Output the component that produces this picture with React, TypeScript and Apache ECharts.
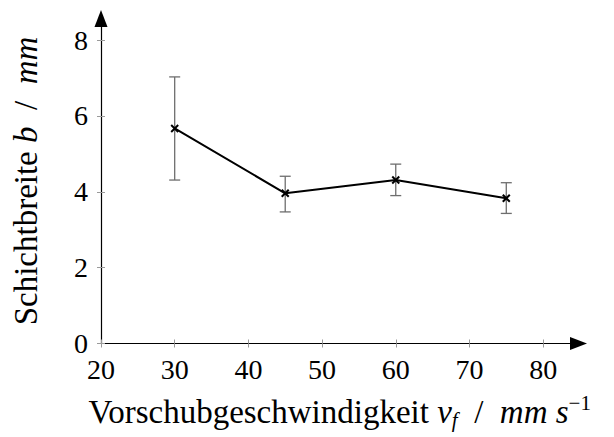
import React, { useEffect, useRef } from "react";
import * as echarts from "echarts";

const speeds = [30, 45, 60, 75];
const widths = [5.67, 3.96, 4.31, 3.83];
const errLow = [4.31, 3.47, 3.9, 3.43];
const errHigh = [7.03, 4.41, 4.73, 4.24];
const xTicks = [20, 30, 40, 50, 60, 70, 80];
const yTicks = [0, 2, 4, 6, 8];
const xTitle = ["Vorschubgeschwindigkeit ", "v", "f", "  /  ", "mm s", "−1"];
const yTitle = ["Schichtbreite ", "b", "  /  ", "mm"];

const FONT = "Liberation Serif";

export default function App() {
  const ref = useRef<HTMLDivElement>(null);
  useEffect(() => {
    const chart = echarts.init(ref.current!, null, { renderer: "svg" });
    const pts = speeds.map((s, i) => [s, widths[i], errLow[i], errHigh[i]]);
    const tickColor = "#9a9a9a";
    const baseX = { type: "value" as const, min: 20, max: 84.8, splitLine: { show: false } };
    const baseY = { type: "value" as const, min: 0, max: 8.57, splitLine: { show: false } };
    const rich = {
      t: { fontFamily: FONT, fontSize: 33, color: "#000", lineHeight: 38, verticalAlign: "middle" },
      i: { fontFamily: FONT, fontSize: 33, fontStyle: "italic", color: "#000", lineHeight: 38, verticalAlign: "middle" },
      sub: { fontFamily: FONT, fontSize: 21, fontStyle: "italic", color: "#000", lineHeight: 21, verticalAlign: "bottom" },
      sup: { fontFamily: FONT, fontSize: 21, color: "#000", lineHeight: 21, verticalAlign: "top" },
    };
    const xName = `{t|${xTitle[0]}}{i|${xTitle[1]}}{sub|${xTitle[2]}}{t|${xTitle[3]}}{i|${xTitle[4]}}{sup|${xTitle[5]}}`;
    const yName = `{t|${yTitle[0]}}{i|${yTitle[1]}}{t|${yTitle[2]}}{i|${yTitle[3]}}`;
    chart.setOption({
      animation: false,
      backgroundColor: "#fff",
      textStyle: { fontFamily: FONT },
      grid: { left: 101, right: 35.5, top: 18.5, bottom: 437 - 343.5 },
      xAxis: [
        {
          ...baseX,
          name: xName,
          nameLocation: "middle",
          nameGap: 49,
          nameTextStyle: { fontFamily: FONT, rich },
          axisLine: {
            show: true,
            lineStyle: { color: "#000", width: 1.2 },
            symbol: ["none", "triangle"],
            symbolSize: [13, 17],
          },
          axisTick: { show: true, inside: false, length: 4, lineStyle: { color: tickColor }, customValues: xTicks },
          axisLabel: {
            customValues: xTicks,
            fontFamily: FONT,
            fontSize: 28,
            color: "#000",
            margin: 12,
          },
        },
        {
          ...baseX,
          axisLine: { show: false },
          axisTick: { show: true, inside: true, length: 4, lineStyle: { color: tickColor }, customValues: xTicks },
          axisLabel: { show: false },
          position: "bottom",
        },
      ],
      yAxis: [
        {
          ...baseY,
          name: yName,
          nameLocation: "middle",
          nameGap: 56,
          nameTextStyle: { fontFamily: FONT, rich },
          axisLine: {
            show: true,
            lineStyle: { color: "#000", width: 1.2 },
            symbol: ["none", "triangle"],
            symbolSize: [13, 17],
          },
          axisTick: { show: true, inside: false, length: 4, lineStyle: { color: tickColor }, customValues: yTicks },
          axisLabel: {
            customValues: yTicks,
            fontFamily: FONT,
            fontSize: 28,
            color: "#000",
            margin: 13,
          },
        },
        {
          ...baseY,
          axisLine: { show: false },
          axisTick: { show: true, inside: true, length: 4, lineStyle: { color: tickColor }, customValues: yTicks },
          axisLabel: { show: false },
          position: "left",
        },
      ],
      series: [
        {
          type: "custom",
          xAxisIndex: 0,
          yAxisIndex: 0,
          data: pts,
          z: 2,
          renderItem: (params: any, api: any) => {
            const x = api.value(0);
            const lo = api.coord([x, api.value(2)]);
            const hi = api.coord([x, api.value(3)]);
            const hw = 5.5;
            const style = { stroke: "#6e6e6e", lineWidth: 1.3 };
            return {
              type: "group",
              children: [
                { type: "line", shape: { x1: lo[0], y1: lo[1], x2: hi[0], y2: hi[1] }, style },
                { type: "line", shape: { x1: lo[0] - hw, y1: lo[1], x2: lo[0] + hw, y2: lo[1] }, style },
                { type: "line", shape: { x1: hi[0] - hw, y1: hi[1], x2: hi[0] + hw, y2: hi[1] }, style },
              ],
            };
          },
        },
        {
          type: "line",
          xAxisIndex: 0,
          yAxisIndex: 0,
          data: pts.map((p) => [p[0], p[1]]),
          symbol: "none",
          lineStyle: { color: "#000", width: 2 },
          z: 3,
        },
        {
          type: "custom",
          xAxisIndex: 0,
          yAxisIndex: 0,
          data: pts.map((p) => [p[0], p[1]]),
          z: 4,
          renderItem: (params: any, api: any) => {
            const c = api.coord([api.value(0), api.value(1)]);
            const r = 3.5;
            const style = { stroke: "#000", lineWidth: 2 };
            return {
              type: "group",
              children: [
                { type: "line", shape: { x1: c[0] - r, y1: c[1] - r, x2: c[0] + r, y2: c[1] + r }, style },
                { type: "line", shape: { x1: c[0] - r, y1: c[1] + r, x2: c[0] + r, y2: c[1] - r }, style },
              ],
            };
          },
        },
      ],
    });
    return () => chart.dispose();
  }, []);
  return <div ref={ref} style={{ width: 614, height: 437, position: "absolute", left: 0, top: 0 }} />;
}
